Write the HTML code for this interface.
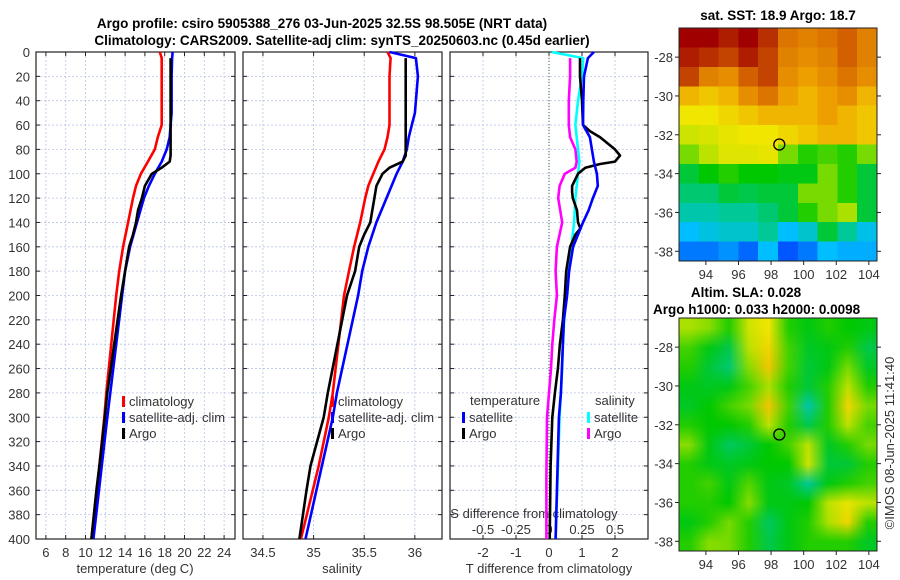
<!DOCTYPE html>
<html><head><meta charset="utf-8"><style>
html,body{margin:0;padding:0;background:#fff;}
svg{display:block;font-family:"Liberation Sans","DejaVu Sans",sans-serif;}
.t{font-size:13px;fill:#333;}
.b{font-size:13.5px;font-weight:bold;fill:#000;}
canvas{position:absolute;}
</style></head><body>
<div style="position:relative;width:900px;height:580px;">
<canvas id="sst" width="10" height="12" style="left:679px;top:28px;width:198px;height:233px;image-rendering:pixelated;"></canvas>
<canvas id="sla" width="10" height="12" style="left:679px;top:318px;width:198px;height:233px;"></canvas>
<svg id="fig" width="900" height="580" style="position:absolute;left:0;top:0;"></svg>
</div>
<script>
// ---- data ----
const depthTicks=[0,20,40,60,80,100,120,140,160,180,200,220,240,260,280,300,320,340,360,380,400];
const tTicks=[6,8,10,12,14,16,18,20,22,24];
const sTicks=[34.5,35,35.5,36];
const dtTicks=[-2,-1,0,1,2];
const dsTicks=[-0.5,-0.25,0,0.25,0.5];
const dsTickLabels=['-0.5','-0.25','0','0.25','0.5'];
const latTicks=[-28,-30,-32,-34,-36,-38];
const lonTicks=[94,96,98,100,102,104];

const climDepth=[0,5,20,40,60,70,80,90,100,110,120,140,160,180,200,280,300,340,400];
const climTemp=[17.5,17.7,17.7,17.7,17.7,17.3,17.0,16.3,15.6,15.1,14.8,14.3,13.8,13.4,13.1,12.1,11.9,11.4,10.6];
const climSal=[35.73,35.76,35.75,35.75,35.75,35.73,35.70,35.64,35.59,35.54,35.51,35.46,35.40,35.35,35.30,35.19,35.15,35.05,34.875];
const satDepth=[0,5,20,50,60,70,80,90,100,110,120,140,160,180,200,280,300,400];
const satTemp=[18.8,18.75,18.7,18.7,18.6,18.5,18.2,17.7,17.0,16.4,15.9,15.2,14.5,14.0,13.7,12.5,12.2,10.8];
const satSal=[35.75,36.01,36.03,36.0,35.97,35.94,35.92,35.88,35.82,35.77,35.72,35.62,35.54,35.48,35.44,35.23,35.19,34.92];
const argoDepth=[5,20,40,60,85,90,95,100,110,120,130,140,150,160,180,200,280,300,340,360,400];
const argoTemp=[18.6,18.6,18.6,18.6,18.6,18.5,17.7,16.7,16.0,15.7,15.3,15.1,14.8,14.4,14.0,13.6,12.2,11.95,11.4,11.1,10.6];
const argoSal=[35.91,35.91,35.91,35.91,35.91,35.88,35.75,35.68,35.62,35.60,35.58,35.56,35.50,35.45,35.41,35.33,35.14,35.10,34.97,34.93,34.86];

const dTsatDepth=[0,5,20,40,60,70,80,90,100,110,120,130,140,150,160,180,200,220,240,260,280,300,400];
const dTsat=[1.36,1.18,1.06,1.04,1.03,1.24,1.3,1.36,1.45,1.48,1.33,1.2,1.03,0.88,0.73,0.61,0.55,0.45,0.42,0.39,0.36,0.3,0.2];
const dTargoDepth=[5,20,40,60,65,70,80,85,90,92,95,100,110,115,120,130,140,145,150,160,180,200,220,240,260,280,300,340,400];
const dTargo=[0.94,0.94,1.0,1.03,1.24,1.55,2.0,2.15,2.0,1.55,1.1,0.88,0.7,0.7,0.72,0.85,0.88,0.95,0.8,0.64,0.52,0.48,0.42,0.33,0.27,0.18,0.1,0.05,0.02];
const dSsatDepth=[0,5,20,40,60,80,90,100,120,140,160,180,200,220,240,260,280,300,400];
const dSsat=[0.02,0.26,0.25,0.22,0.2,0.22,0.23,0.22,0.2,0.19,0.17,0.14,0.13,0.115,0.105,0.1,0.09,0.08,0.05];
const dSargoDepth=[5,20,40,60,70,80,90,95,100,110,120,140,160,180,200,220,240,260,280,300,350,400];
const dSargo=[0.16,0.16,0.15,0.15,0.16,0.2,0.21,0.2,0.12,0.08,0.07,0.1,0.06,0.05,0.06,0.04,0.025,0.015,0.0,-0.015,-0.02,-0.02];

const sstGrid=[
[0.95,0.95,0.92,0.95,0.9,0.82,0.8,0.82,0.85,0.8],
[0.92,0.9,0.88,0.92,0.88,0.8,0.78,0.8,0.85,0.8],
[0.88,0.8,0.78,0.85,0.88,0.78,0.75,0.78,0.82,0.78],
[0.72,0.7,0.72,0.78,0.82,0.75,0.72,0.75,0.78,0.72],
[0.66,0.66,0.68,0.7,0.72,0.72,0.72,0.75,0.72,0.7],
[0.62,0.63,0.65,0.66,0.66,0.68,0.7,0.72,0.72,0.7],
[0.55,0.6,0.64,0.64,0.65,0.55,0.5,0.52,0.5,0.55],
[0.45,0.48,0.5,0.48,0.48,0.47,0.47,0.55,0.5,0.45],
[0.42,0.42,0.45,0.44,0.45,0.45,0.55,0.55,0.5,0.45],
[0.38,0.38,0.4,0.4,0.42,0.45,0.5,0.55,0.58,0.45],
[0.3,0.33,0.35,0.35,0.4,0.3,0.35,0.45,0.4,0.32],
[0.22,0.22,0.25,0.2,0.3,0.18,0.22,0.3,0.28,0.28]];
const slaGrid=[
[0.58,0.56,0.5,0.62,0.66,0.5,0.47,0.5,0.48,0.47],
[0.52,0.47,0.44,0.6,0.68,0.52,0.46,0.47,0.5,0.44],
[0.5,0.45,0.42,0.56,0.7,0.52,0.45,0.47,0.55,0.46],
[0.47,0.46,0.47,0.52,0.58,0.5,0.45,0.5,0.6,0.5],
[0.46,0.48,0.52,0.55,0.7,0.52,0.38,0.5,0.68,0.55],
[0.5,0.48,0.48,0.5,0.6,0.5,0.44,0.5,0.6,0.52],
[0.56,0.47,0.43,0.45,0.48,0.52,0.6,0.46,0.5,0.55],
[0.5,0.47,0.46,0.47,0.48,0.48,0.62,0.45,0.45,0.5],
[0.5,0.52,0.47,0.53,0.47,0.46,0.4,0.47,0.5,0.52],
[0.5,0.5,0.48,0.56,0.47,0.47,0.48,0.6,0.65,0.6],
[0.47,0.5,0.55,0.5,0.43,0.47,0.5,0.58,0.68,0.5],
[0.5,0.56,0.55,0.5,0.44,0.47,0.5,0.5,0.5,0.46]];
const argoLat=-32.5, argoLon=98.505;

// ---- drawing ----
const NS='http://www.w3.org/2000/svg';
const svg=document.getElementById('fig');
function mk(tag,at,parent){const e=document.createElementNS(NS,tag);for(const k in at)e.setAttribute(k,at[k]);(parent||svg).appendChild(e);return e;}
function txt(x,y,s,cls,anchor,name){const e=mk('text',{x:x,y:y,class:cls,'text-anchor':anchor||'start'});e.textContent=s;


return e;}
const yTop=52,yBot=539;
const yD=d=>yTop+(yBot-yTop)*d/400;
function panel(x0,x1,xmin,xmax,gridX,name){
  const sx=v=>x0+(x1-x0)*(v-xmin)/(xmax-xmin);
  const g=mk('g',{});
  
  
  depthTicks.forEach(d=>{mk('line',{x1:x0,x2:x1,y1:yD(d),y2:yD(d),stroke:'#b8c4e8','stroke-width':0.8,'stroke-dasharray':'2,2'},g);
    mk('line',{x1:x0,x2:x0+4,y1:yD(d),y2:yD(d),stroke:'#222'},g);mk('line',{x1:x1-4,x2:x1,y1:yD(d),y2:yD(d),stroke:'#222'},g);});
  gridX.forEach(v=>{mk('line',{x1:sx(v),x2:sx(v),y1:yTop,y2:yBot,stroke:'#b8c4e8','stroke-width':0.8,'stroke-dasharray':'2,2'},g);
    mk('line',{x1:sx(v),x2:sx(v),y1:yTop,y2:yTop+4,stroke:'#222'},g);mk('line',{x1:sx(v),x2:sx(v),y1:yBot-4,y2:yBot,stroke:'#222'},g);});
  mk('rect',{x:x0,y:yTop,width:x1-x0,height:yBot-yTop,fill:'none',stroke:'#222','stroke-width':1.2},g);
  return sx;
}
function line(sx,vals,depths,color,name,scale){
  const pts=vals.map((v,i)=>sx(v*(scale||1)).toFixed(1)+','+yD(depths[i]).toFixed(1)).join(' ');
  const p=mk('polyline',{points:pts,fill:'none',stroke:color,'stroke-width':2.6,'stroke-linejoin':'round'});
  
  
}
// titles
txt(322,28,'Argo profile: csiro 5905388_276 03-Jun-2025 32.5S 98.505E (NRT data)','b','middle','main-title');
txt(342,45,'Climatology: CARS2009. Satellite-adj clim: synTS_20250603.nc (0.45d earlier)','b','middle','sub-title');
// depth labels
depthTicks.forEach(d=>txt(30,yD(d)+5,String(d),'t','end','depth-tick-label'));
// panel 1
const sxT=panel(36,235,5,25.1,tTicks,'temperature-panel');
tTicks.forEach(v=>txt(sxT(v),557,String(v),'t','middle','temp-tick-label'));
txt(135,573,'temperature (deg C)','t','middle','temp-axis-title');
line(sxT,climTemp,climDepth,'#f00','temp-climatology-line');
line(sxT,satTemp,satDepth,'#00f','temp-satellite-line');
line(sxT,argoTemp,argoDepth,'#000','temp-argo-line');
// panel 2
const sxS=panel(243,442,34.303,36.268,sTicks,'salinity-panel');
sTicks.forEach(v=>txt(sxS(v),557,String(v),'t','middle','sal-tick-label'));
txt(342,573,'salinity','t','middle','sal-axis-title');
line(sxS,climSal,climDepth,'#f00','sal-climatology-line');
line(sxS,satSal,satDepth,'#00f','sal-satellite-line');
line(sxS,argoSal,argoDepth,'#000','sal-argo-line');
// panel 3
const sxD=panel(450,648,-3,3,dtTicks,'difference-panel');
mk('line',{x1:sxD(0),x2:sxD(0),y1:yTop,y2:yBot,stroke:'#363','stroke-width':1,'stroke-dasharray':'1,2'});
dtTicks.forEach(v=>txt(sxD(v),557,String(v),'t','middle','dt-tick-label'));
txt(549,573,'T difference from climatology','t','middle','dt-axis-title');
dsTicks.forEach((v,i)=>txt(sxD(v*4),534,dsTickLabels[i],'t','middle','ds-tick-label'));
txt(534,518,'S difference from climatology','t','middle','ds-axis-title');
line(sxD,dSargo,dSargoDepth,'#f0f','ds-argo-line',4);
line(sxD,dSsat,dSsatDepth,'#0ff','ds-satellite-line',4);
line(sxD,dTargo,dTargoDepth,'#000','dt-argo-line');
line(sxD,dTsat,dTsatDepth,'#00f','dt-satellite-line');
// legends
function leg(x,y,color,label){mk('rect',{x:x,y:y-10,width:3,height:11,fill:color});txt(x+7,y,label,'t','start','legend-entry');}
leg(122,406,'#f00','climatology');leg(122,422,'#00f','satellite-adj. clim');leg(122,438,'#000','Argo');
leg(331,406,'#f00','climatology');leg(331,422,'#00f','satellite-adj. clim');leg(331,438,'#000','Argo');
txt(470,405,'temperature','t','start','legend-title-temp');
leg(462,422,'#00f','satellite');leg(462,438,'#000','Argo');
txt(595,405,'salinity','t','start','legend-title-sal');
leg(587,422,'#0ff','satellite');leg(587,438,'#f0f','Argo');

// maps
const cmapStops=[[0,0,0,140],[0.15,0,60,255],[0.3,0,190,255],[0.4,0,200,150],[0.48,0,200,0],[0.58,170,225,0],[0.66,240,230,0],[0.74,240,165,0],[0.84,215,105,0],[0.95,160,0,0],[1,140,0,0]];
function cmap(v){v=Math.max(0,Math.min(1,v));for(let i=1;i<cmapStops.length;i++){const a=cmapStops[i-1],b=cmapStops[i];if(v<=b[0]){const f=(v-a[0])/(b[0]-a[0]);
return 'rgb('+[1,2,3].map(k=>Math.round(a[k]+(b[k]-a[k])*f)).join(',')+')';}}return 'rgb(140,0,0)';}
function drawGrid(id,grid){const c=document.getElementById(id).getContext('2d');grid.forEach((row,j)=>row.forEach((v,i)=>{c.fillStyle=cmap(v);c.fillRect(i,j,1,1);}));}
drawGrid('sst',sstGrid);drawGrid('sla',slaGrid);
function mapAxes(y0,y1,name){
  const x0=679,x1=877,lon0=92.35,lon1=104.5,lat0=-26.5,lat1=-38.5;
  const sx=v=>x0+(x1-x0)*(v-lon0)/(lon1-lon0), sy=v=>y0+(y1-y0)*(v-lat0)/(lat1-lat0);
  const g=mk('g',{});
  
  
  mk('rect',{x:x0,y:y0,width:x1-x0,height:y1-y0,fill:'none',stroke:'#222','stroke-width':1},g);
  latTicks.forEach(v=>{mk('line',{x1:x0-4,x2:x0,y1:sy(v),y2:sy(v),stroke:'#222'},g);mk('line',{x1:x1,x2:x1+4,y1:sy(v),y2:sy(v),stroke:'#222'},g);
    txt(673,sy(v)+5,String(v),'t','end','lat-tick-label');});
  lonTicks.forEach(v=>{mk('line',{x1:sx(v),x2:sx(v),y1:y1,y2:y1+4,stroke:'#222'},g);txt(sx(v),y1+18,String(v),'t','middle','lon-tick-label');});
  const c=mk('circle',{cx:sx(argoLon),cy:sy(argoLat),r:5.5,fill:'none',stroke:'#000','stroke-width':1.3});
  
  
}
mapAxes(28,261,'sst-map-axes');mapAxes(318,551,'sla-map-axes');
txt(778,20,'sat. SST: 18.9 Argo: 18.7','b','middle','sst-map-title');
txt(746,297,'Altim. SLA: 0.028','b','middle','sla-map-title');
txt(653,314,'Argo h1000: 0.033 h2000: 0.0098','b','start','sla-map-subtitle');
const cr=txt(0,0,'©IMOS 08-Jun-2025 11:41:40','t','middle','credit-text');
cr.setAttribute('transform','translate(894,443) rotate(-90)');
</script>
</body></html>
